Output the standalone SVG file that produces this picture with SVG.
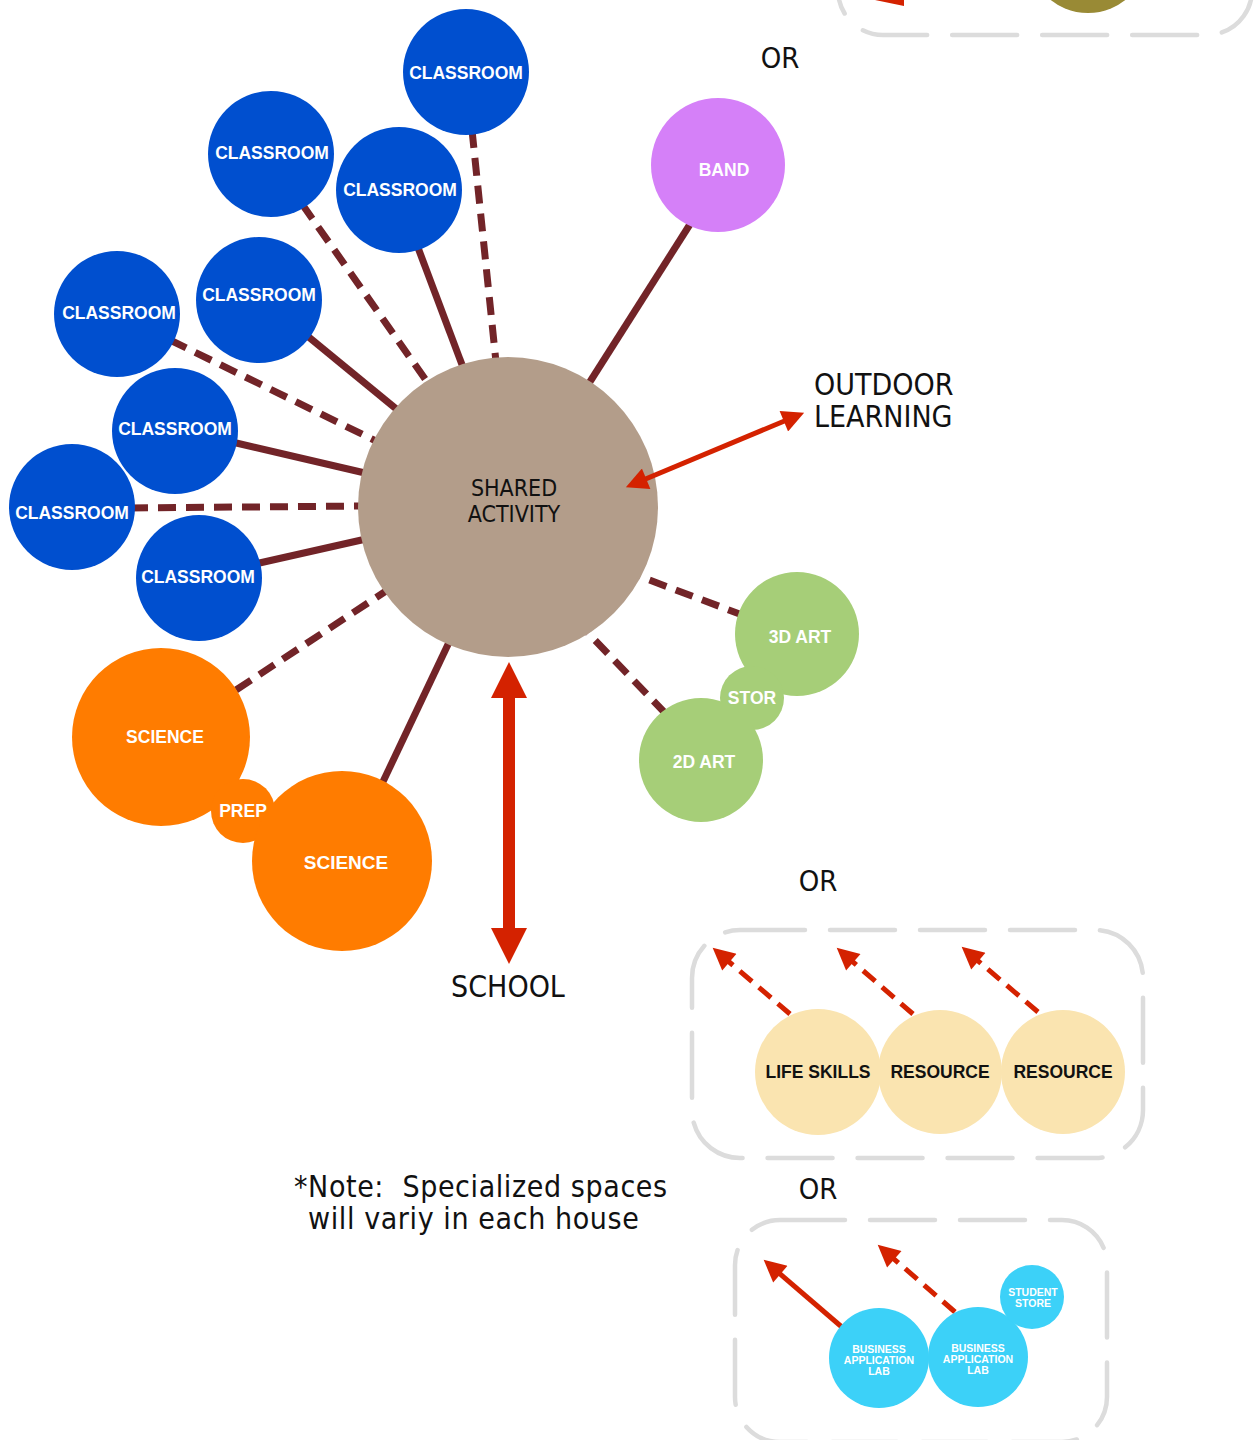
<svg xmlns="http://www.w3.org/2000/svg" width="1256" height="1440" viewBox="0 0 1256 1440">
<defs>
<style>
.lbl{font-family:"Liberation Sans",Arial,sans-serif;font-weight:bold;fill:#fff;text-anchor:middle}
.cl{font-size:17.5px}
.dk{fill:#111}
.cond{font-family:"DejaVu Sans Condensed","DejaVu Sans",sans-serif;font-stretch:condensed;fill:#111}
.note{white-space:pre;letter-spacing:0.6px}
.link{stroke:#722428;stroke-width:7;fill:none}
.dash{stroke-dasharray:18 10}
.box{fill:none;stroke:#dcdcdc;stroke-width:4.5;stroke-dasharray:65 25;stroke-linecap:round}
.red{stroke:#d42200;fill:none}
.rd{stroke-dasharray:16 9}
.blue{fill:#004fcf}
.orange{fill:#ff7c00}
.green{fill:#a6ce78}
.yellow{fill:#fae4b0}
.cyan{fill:#3cd1f8}
</style>
<marker id="ah" viewBox="0 0 10 10" refX="5" refY="5" markerWidth="24" markerHeight="22" markerUnits="userSpaceOnUse" orient="auto-start-reverse">
<path d="M0,0 L10,5 L0,10 z" fill="#d42200"/>
</marker>
<marker id="ahBig" viewBox="0 0 10 10" refX="5" refY="5" markerWidth="45" markerHeight="36" markerUnits="userSpaceOnUse" orient="auto-start-reverse">
<path d="M0,0 L10,5 L0,10 z" fill="#d42200"/>
</marker>
</defs>

<rect x="0" y="0" width="1256" height="1440" fill="#fff"/>

<!-- partial top-right option -->
<g id="partial-top">
<rect class="box" x="838" y="-300" width="414" height="335" rx="45"/>
<circle cx="1088" cy="-47" r="60" fill="#998a35"/>
<polygon points="875,0 904,0 904,6" fill="#d42200"/>
</g>

<g id="connectors">
<line class="link dash" x1="472" y1="130" x2="496" y2="362"/>
<line class="link dash" x1="302" y1="204" x2="430" y2="386"/>
<line class="link" x1="417" y1="245" x2="464" y2="370"/>
<line class="link" x1="305" y1="334" x2="400" y2="412"/>
<line class="link dash" x1="170" y1="340" x2="378" y2="442"/>
<line class="link" x1="232" y1="442" x2="365" y2="473"/>
<line class="link dash" x1="130" y1="508" x2="362" y2="506"/>
<line class="link" x1="255" y1="564" x2="366" y2="539"/>
<line class="link dash" x1="236" y1="690" x2="386" y2="591"/>
<line class="link" x1="380" y1="788" x2="452" y2="636"/>
<line class="link" x1="694" y1="218" x2="586" y2="388"/>
<line class="link dash" x1="745" y1="616" x2="636" y2="575"/>
<line class="link dash" x1="666" y1="714" x2="588" y2="633"/>
</g>

<g id="shared-activity">
<circle cx="508" cy="507" r="150" fill="#b39d8a"/>
<text class="cond" x="514" y="496" font-size="23" text-anchor="middle">SHARED</text>
<text class="cond" x="514" y="522" font-size="23" text-anchor="middle">ACTIVITY</text>
</g>

<g id="classroom-1"><circle class="blue" cx="466" cy="72" r="63"/><text class="lbl cl" x="466" y="79">CLASSROOM</text></g>
<g id="classroom-2"><circle class="blue" cx="271" cy="154" r="63"/><text class="lbl cl" x="272" y="159">CLASSROOM</text></g>
<g id="classroom-3"><circle class="blue" cx="399" cy="190" r="63"/><text class="lbl cl" x="400" y="196">CLASSROOM</text></g>
<g id="classroom-4"><circle class="blue" cx="259" cy="300" r="63"/><text class="lbl cl" x="259" y="301">CLASSROOM</text></g>
<g id="classroom-5"><circle class="blue" cx="117" cy="314" r="63"/><text class="lbl cl" x="119" y="319">CLASSROOM</text></g>
<g id="classroom-6"><circle class="blue" cx="175" cy="431" r="63"/><text class="lbl cl" x="175" y="435">CLASSROOM</text></g>
<g id="classroom-7"><circle class="blue" cx="72" cy="507" r="63"/><text class="lbl cl" x="72" y="519">CLASSROOM</text></g>
<g id="classroom-8"><circle class="blue" cx="199" cy="578" r="63"/><text class="lbl cl" x="198" y="583">CLASSROOM</text></g>

<g id="science-1"><circle class="orange" cx="161" cy="737" r="89"/><text class="lbl" x="165" y="743" font-size="17.5">SCIENCE</text></g>
<g id="prep"><circle class="orange" cx="243" cy="811" r="32"/><text class="lbl" x="243" y="817" font-size="17.5">PREP</text></g>
<g id="science-2"><circle class="orange" cx="342" cy="861" r="90"/><text class="lbl" x="346" y="869" font-size="19">SCIENCE</text></g>

<g id="band"><circle cx="718" cy="165" r="67" fill="#d580f8"/><text class="lbl" x="724" y="176" font-size="17.5">BAND</text></g>

<g id="art-3d"><circle class="green" cx="797" cy="634" r="62"/><text class="lbl" x="800" y="643" font-size="17.5">3D ART</text></g>
<g id="stor"><circle class="green" cx="752" cy="698" r="32"/><text class="lbl" x="752" y="704" font-size="17.5">STOR</text></g>
<g id="art-2d"><circle class="green" cx="701" cy="760" r="62"/><text class="lbl" x="704" y="768" font-size="17.5">2D ART</text></g>

<g id="outdoor-learning">
<line class="red" stroke-width="5" x1="636" y1="483" x2="794" y2="417" marker-start="url(#ah)" marker-end="url(#ah)"/>
<text class="cond" x="814" y="395" font-size="30">OUTDOOR</text>
<text class="cond" x="814" y="427" font-size="30">LEARNING</text>
</g>

<g id="school">
<line class="red" stroke-width="12" x1="509" y1="680" x2="509" y2="946" marker-start="url(#ahBig)" marker-end="url(#ahBig)"/>
<text class="cond" x="508" y="997" font-size="30" text-anchor="middle">SCHOOL</text>
</g>

<text class="cond" x="780" y="68" font-size="29" text-anchor="middle">OR</text>
<text class="cond" x="818" y="891" font-size="29" text-anchor="middle">OR</text>
<text class="cond" x="818" y="1199" font-size="29" text-anchor="middle">OR</text>

<g id="note">
<text class="cond note" x="294" y="1197" font-size="30">*Note:  Specialized spaces</text>
<text class="cond note" x="308" y="1229" font-size="30">will variy in each house</text>
</g>

<g id="option-life-skills">
<rect class="box" x="692" y="930" width="451" height="228" rx="48"/>
<line class="red rd" stroke-width="5" x1="790" y1="1014" x2="721" y2="955" marker-end="url(#ah)"/>
<line class="red rd" stroke-width="5" x1="913" y1="1014" x2="845" y2="955" marker-end="url(#ah)"/>
<line class="red rd" stroke-width="5" x1="1038" y1="1012" x2="970" y2="954" marker-end="url(#ah)"/>
<g id="life-skills"><circle class="yellow" cx="818" cy="1072" r="63"/><text class="lbl dk" x="818" y="1078" font-size="17.5">LIFE SKILLS</text></g>
<g id="resource-1"><circle class="yellow" cx="940" cy="1072" r="62"/><text class="lbl dk" x="940" y="1078" font-size="17.5">RESOURCE</text></g>
<g id="resource-2"><circle class="yellow" cx="1063" cy="1072" r="62"/><text class="lbl dk" x="1063" y="1078" font-size="17.5">RESOURCE</text></g>
</g>

<g id="option-business">
<rect class="box" x="735" y="1220" width="372" height="222" rx="45"/>
<line class="red" stroke-width="5" x1="843" y1="1328" x2="772" y2="1267" marker-end="url(#ah)"/>
<line class="red rd" stroke-width="5" x1="955" y1="1312" x2="886" y2="1252" marker-end="url(#ah)"/>
<g id="business-lab-1"><circle class="cyan" cx="879" cy="1358" r="50"/>
<text class="lbl" x="879" y="1353" font-size="10.5">BUSINESS</text><text class="lbl" x="879" y="1364" font-size="10.5">APPLICATION</text><text class="lbl" x="879" y="1375" font-size="10.5">LAB</text></g>
<g id="business-lab-2"><circle class="cyan" cx="978" cy="1357" r="50"/>
<text class="lbl" x="978" y="1352" font-size="10.5">BUSINESS</text><text class="lbl" x="978" y="1363" font-size="10.5">APPLICATION</text><text class="lbl" x="978" y="1374" font-size="10.5">LAB</text></g>
<g id="student-store"><circle class="cyan" cx="1032" cy="1297" r="32"/>
<text class="lbl" x="1033" y="1296" font-size="10.5">STUDENT</text><text class="lbl" x="1033" y="1307" font-size="10.5">STORE</text></g>
</g>
</svg>
